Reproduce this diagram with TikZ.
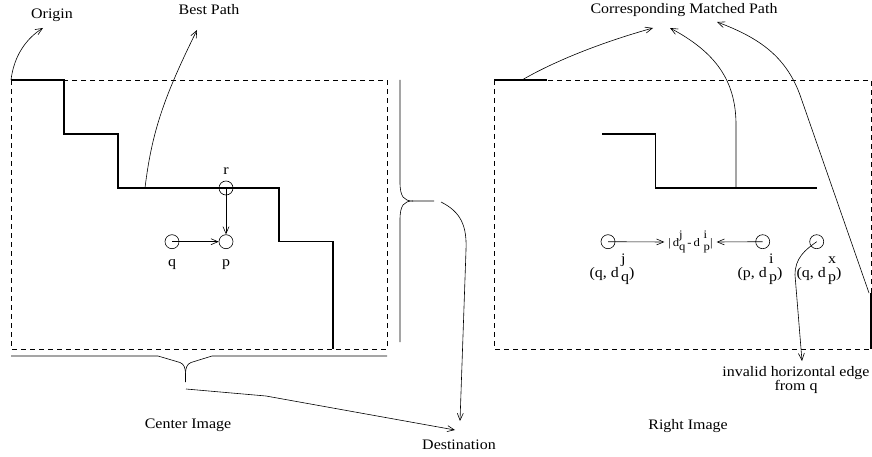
\documentclass[tikz,border=0pt]{standalone}
\usepackage{fontspec}
\setmainfont{Liberation Serif}[FakeStretch=1.1]
\usetikzlibrary{arrows.meta}

% stacked super/subscript placed after a letter
\newcommand{\supsubx}[2]{\,\rlap{\raisebox{0.9em}{#1}}\raisebox{-0.3em}{#2}}
\newcommand{\smallsupsub}[2]{\rlap{\raisebox{0.7em}{#1}}\raisebox{-0.3em}{#2}}

\begin{document}
\begin{tikzpicture}[x=1pt,y=-1pt,
  frame/.style={dash pattern=on 5pt off 4pt, line width=0.6pt},
  stair/.style={line width=1.3pt},
  plain/.style={line width=0.6pt},
  conn/.style={line width=0.6pt, -{Straight Barb[length=7pt,width=6pt]}},
  dot/.style={circle, draw, line width=0.6pt, minimum size=14pt, inner sep=0pt},
  lbl/.style={font=\fontsize{14.5}{16.5}\selectfont, inner sep=0pt},
  tiny/.style={font=\fontsize{11.5}{13}\selectfont, inner sep=0pt}]
\useasboundingbox (0,0) rectangle (872,457);

% ---------- centre image ----------
\draw[frame] (11,80) rectangle (387,349);
\draw[stair] (11,80) -- (64,80) -- (64,134) -- (118,134) -- (118,188)
  -- (279,188) -- (279,241.7) -- (333,241.7) -- (333,349);

\node[dot] (r) at (226,188) {};
\node[dot] (p) at (226,241.7) {};
\node[dot] (q) at (172,241.7) {};
\node[lbl] at (226,171) {r};
\node[lbl] at (172,265) {q};
\node[lbl] at (226,265) {p};
\draw[conn] (r.center) -- (p.north);
\draw[conn] (q.center) -- (p.west);

\coordinate (orig) at (11,80);
\coordinate (bestfoot) at (145,188);
\node[lbl] (origin) at (52,15) {Origin};
\node[lbl] (best) at (209,10) {Best Path};
\draw[conn] (orig) .. controls (14,55) and (27,38) .. (43,28);
\draw[conn] (bestfoot) .. controls (152,130) and (165,95) .. (197,30);

% horizontal brace under the centre image
\coordinate (btip) at (185.5,382);
\draw[plain] (11,356) -- (158,356) -- (180,362.5)
  .. controls (184,364) and (185.5,368) .. (185.5,374) -- (btip);
\draw[plain] (387,356) -- (212,356) -- (191,362.5)
  .. controls (187,364) and (185.5,368) .. (185.5,374);

% vertical brace beside the centre image
\coordinate (vtip) at (434,201);
\draw[plain] (400,80) -- (400,182) .. controls (400,197) and (404,201) .. (413,201) -- (vtip);
\draw[plain] (413,201) .. controls (404,201) and (400,205) .. (400,220) -- (400,342);

\node[lbl] (center) at (188,425) {Center Image};
\node[lbl] (dest) at (459,445) {Destination};
\draw[conn] (186,389) -- (266,396) -- (455,430);
\draw[conn] (441,202) .. controls (461,212) and (467,226) .. (466,250) -- (460,421);

% ---------- right image ----------
\draw[frame] (494,80) rectangle (871,349);
\draw[stair] (494,80) -- (547,80);
\draw[stair] (871,293) -- (871,349);
\draw[stair] (602,134) -- (655.7,134) -- (655.7,188) -- (816.7,188);

\node[lbl] (match) at (684,10) {Corresponding Matched Path};
\draw[conn] (522,80) .. controls (560,58) and (610,40) .. (653,28);
\draw[conn] (736,188) -- (736,125) .. controls (736,80) and (715,52) .. (670,28);
\draw[conn] (869,293) -- (800,95) .. controls (786,57) and (760,38) .. (717,22);

\node[dot] (c1) at (608,241.7) {};
\node[dot] (c2) at (762.7,241.7) {};
\node[dot] (c3) at (816.7,241.7) {};
\node[tiny, minimum width=52pt] (diff) at (690.5,242)
  {|\,d\smallsupsub{j}{q}\,-\,d\,\,\smallsupsub{i}{p}|};
\draw[conn] (c1.center) -- (diff.west);
\draw[conn] (c2.center) -- (diff.east);

\node[lbl, anchor=base] at (612,277) {(q, d\supsubx{j}{q})};
\node[lbl, anchor=base] at (760,277) {(p, d\supsubx{i}{p})};
\node[lbl, anchor=base] at (819,277) {(q, d\supsubx{x}{p})};

\node[lbl, align=center] (invalid) at (796,380) {invalid horizontal edge\\[-3pt]from q};
\draw[conn] (c3.center) .. controls (805,250) and (795,258) .. (795,275) -- (802,361);

\node[lbl] (right) at (688,426) {Right Image};
\end{tikzpicture}
\end{document}
